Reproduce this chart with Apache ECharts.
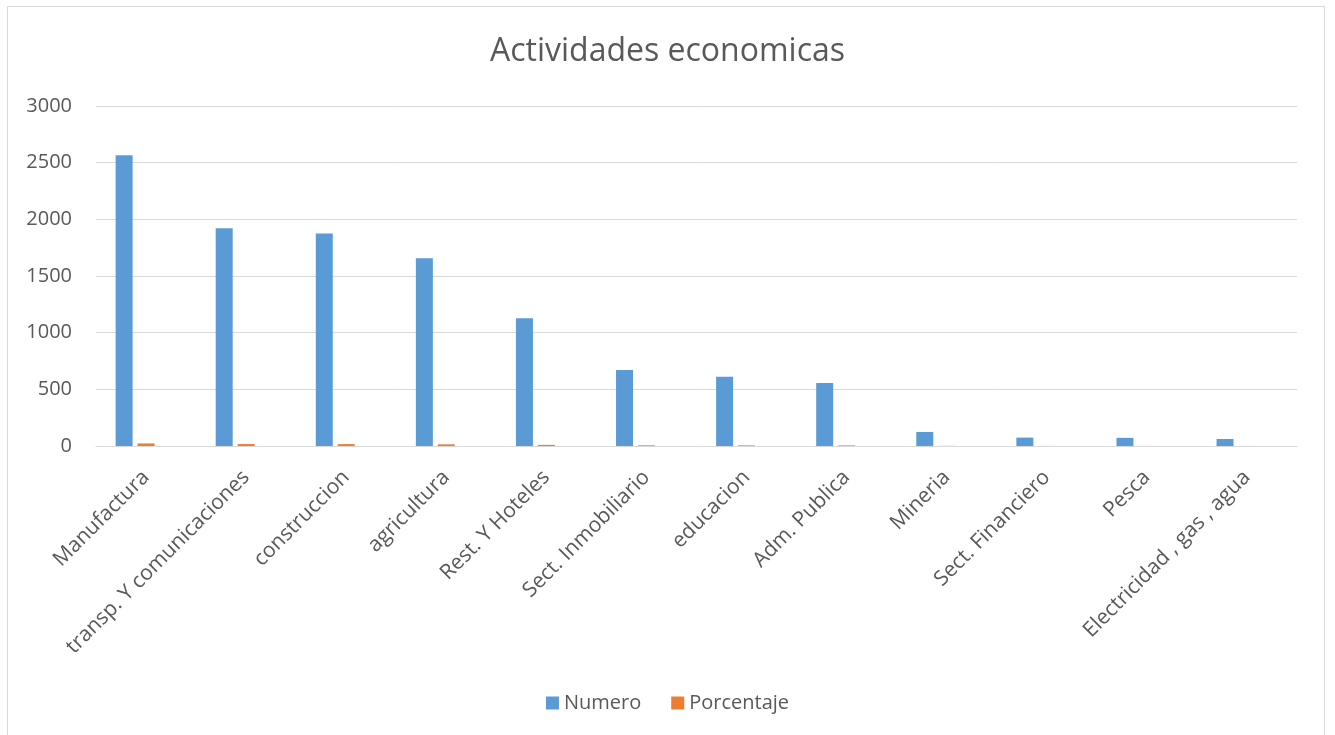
<!DOCTYPE html>
<html>
<head>
<meta charset="utf-8">
<script src="https://cdn.jsdelivr.net/npm/echarts@6/dist/echarts.min.js"></script>
<style>
html,body{margin:0;padding:0;background:#fff;}
#frame{position:absolute;left:7px;top:6px;width:1318px;height:740px;border:1px solid #D9D9D9;box-sizing:border-box;}
#chart{position:absolute;left:0;top:0;width:1335px;height:735px;}
</style>
</head>
<body>
<div id="frame"></div>
<div id="chart"></div>
<script>
const categories = ["Manufactura","transp. Y comunicaciones","construccion","agricultura","Rest. Y Hoteles","Sect. Inmobiliario","educacion","Adm. Publica","Mineria","Sect. Financiero","Pesca","Electricidad , gas , agua"];
const numero = [2565, 1921, 1874, 1656, 1127, 671, 612, 556, 124, 74, 72, 62];
const porcentaje = [22.7, 17.0, 16.6, 14.6, 10.0, 5.9, 5.4, 4.9, 1.1, 0.7, 0.6, 0.5];
const yTicks = [0, 500, 1000, 1500, 2000, 2500, 3000];

const font = "'Open Sans', 'Noto Sans', sans-serif";
const chart = echarts.init(document.getElementById('chart'), null, {renderer:'canvas'});
chart.setOption({
  animation: false,
  title: {
    text: 'Actividades economicas',
    left: 'center',
    top: 31,
    textStyle: {fontFamily: font, fontSize: 32, fontWeight: 'normal', color: '#595959'}
  },
  legend: {
    data: ['Numero', 'Porcentaje'],
    bottom: 17,
    left: 'center',
    itemWidth: 13,
    itemHeight: 13,
    itemGap: 30,
    icon: 'rect',
    textStyle: {fontFamily: font, fontSize: 20, color: '#595959'}
  },
  grid: {left: 96, right: 38, top: 106, bottom: 289, containLabel: false},
  xAxis: {
    type: 'category',
    data: categories,
    axisLine: {lineStyle: {color: '#D9D9D9', width: 1}},
    axisTick: {show: false},
    axisLabel: {rotate: 45, interval: 0, fontFamily: font, fontSize: 21, color: '#595959', margin: 28}
  },
  yAxis: {
    type: 'value',
    min: yTicks[0],
    max: yTicks[yTicks.length - 1],
    interval: 500,
    axisLine: {show: false},
    axisTick: {show: false},
    splitLine: {lineStyle: {color: '#D9D9D9', width: 1}},
    axisLabel: {fontFamily: font, fontSize: 20, color: '#595959', margin: 24, formatter: v => String(v)}
  },
  series: [
    {name: 'Numero', type: 'bar', data: numero, barWidth: 17, barGap: '29%', itemStyle: {color: '#5B9BD5'}},
    {name: 'Porcentaje', type: 'bar', data: porcentaje, barWidth: 17, barGap: '29%', itemStyle: {color: '#ED7D31'}},
    {name: '_empty', type: 'bar', data: categories.map(() => null), barWidth: 17, barGap: '29%', itemStyle: {color: '#A5A5A5'}}
  ]
});
</script>
</body>
</html>
